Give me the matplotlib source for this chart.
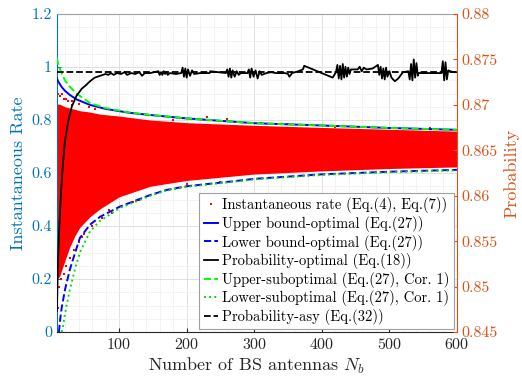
import numpy as np
import matplotlib
matplotlib.use("Agg")
import matplotlib.pyplot as plt

plt.rcParams["font.family"] = "serif"
plt.rcParams["font.serif"] = ["cmr10"]
plt.rcParams["mathtext.fontset"] = "cm"
plt.rcParams["axes.formatter.use_mathtext"] = True

# --- data ---
# upper bounds (left axis)
n_up = [8, 10, 15, 20, 27, 37, 57, 80, 116, 146, 200, 300, 382, 500, 600]
upper_opt = [0.957, 0.945, 0.925, 0.91, 0.895, 0.878, 0.857, 0.842, 0.827, 0.819, 0.806, 0.788, 0.781, 0.770, 0.763]
upper_sub = [1.035, 1.01, 0.976, 0.95, 0.926, 0.90, 0.864, 0.845, 0.828, 0.819, 0.806, 0.788, 0.781, 0.770, 0.763]

# lower bounds (left axis)
n_low = [11, 13, 15, 20, 27, 35, 42, 57, 72, 101, 146, 170, 200, 280, 300, 400, 500, 600]
lower_opt = [0.0, 0.05, 0.09, 0.16, 0.234, 0.30, 0.355, 0.405, 0.435, 0.473, 0.517, 0.536, 0.55, 0.572, 0.578, 0.595, 0.605, 0.612]
n_low_sub = [15, 17, 20, 27, 35, 42, 57, 72, 101, 146, 170, 200, 280, 300, 400, 500, 600]
lower_sub = [0.0, 0.02, 0.07, 0.158, 0.24, 0.30, 0.38, 0.42, 0.468, 0.514, 0.534, 0.548, 0.570, 0.576, 0.593, 0.603, 0.610]

# instantaneous rate cloud: dense envelope + loose points
n_cloud = [8, 12, 20, 27, 35, 42, 57, 72, 100, 146, 200, 300, 400, 500, 600]
cloud_top = [0.86, 0.86, 0.85, 0.845, 0.84, 0.835, 0.83, 0.822, 0.815, 0.80, 0.79, 0.78, 0.772, 0.765, 0.758]
cloud_bot = [0.20, 0.21, 0.27, 0.32, 0.365, 0.395, 0.435, 0.465, 0.51, 0.55, 0.572, 0.596, 0.608, 0.617, 0.623]
n_pts = [8, 9, 9, 11, 12, 14, 15, 18, 18, 22, 22, 28, 30, 34, 40, 40, 48, 55, 60, 75, 90, 120, 160,
         180, 230, 260, 310, 350, 420, 500, 560, 30, 25, 65, 110, 130, 85, 45, 200, 250]
r_pts = [0.15, 0.09, 0.90, 0.17, 0.89, 0.20, 0.90, 0.22, 0.88, 0.25, 0.88, 0.28, 0.87, 0.31, 0.34, 0.86,
         0.37, 0.85, 0.40, 0.43, 0.45, 0.49, 0.53, 0.80, 0.81, 0.805, 0.79, 0.785, 0.775, 0.77, 0.77,
         0.855, 0.87, 0.84, 0.83, 0.50, 0.46, 0.36, 0.56, 0.565]

# probability (right axis)
n_prob = [8, 9, 10, 11, 12, 14, 17, 20, 25, 30, 37, 45, 50, 57, 64, 72, 80,
          84, 88, 92, 97, 103, 108, 112, 118, 124, 130, 134, 138, 146,
          158, 160, 162, 164, 166, 168, 170, 172, 175, 184, 192,
          194, 196, 198, 200, 202, 205, 208, 211, 220, 234, 235, 246, 258,
          260, 262, 264, 266, 268, 271, 274, 277, 280, 290,
          292, 294, 296, 299, 302, 305, 308, 311, 318, 325, 332, 345, 350, 352, 356, 365, 372, 374, 416,
          421, 423, 425, 427, 429, 431, 433, 435, 437, 439, 441, 443,
          453, 456, 459, 462, 466, 475, 483,
          485, 487, 489, 491, 493, 495, 497, 500, 503, 508, 513, 520,
          528, 530, 532, 534, 536, 538, 540, 542, 543, 560, 577,
          579, 581, 583, 585, 587, 590, 595, 600]
p_opt = [0.8473, 0.8508, 0.8536, 0.8557, 0.8573, 0.8602, 0.8636, 0.8661, 0.8683, 0.8698, 0.8710, 0.8718, 0.8721, 0.8726, 0.8730, 0.8732, 0.8734,
         0.8733, 0.8735, 0.8733, 0.8735, 0.8734, 0.8736, 0.8733, 0.8735, 0.8734, 0.8736, 0.8732, 0.8735, 0.8735,
         0.8737, 0.8733, 0.8736, 0.8733, 0.8737, 0.8734, 0.8736, 0.8733, 0.8735, 0.8734, 0.8735,
         0.8741, 0.8731, 0.8740, 0.8730, 0.8739, 0.8732, 0.8738, 0.8734, 0.8735, 0.8735, 0.8737, 0.8736, 0.8735,
         0.8739, 0.8731, 0.8740, 0.8730, 0.8738, 0.8731, 0.8737, 0.8733, 0.8735, 0.8735,
         0.8739, 0.8730, 0.8740, 0.8731, 0.8738, 0.8729, 0.8737, 0.8733, 0.8735, 0.8736, 0.8735, 0.8735, 0.8734, 0.8731, 0.8735, 0.8737, 0.8739, 0.8743, 0.8730,
         0.8736, 0.8744, 0.8729, 0.8743, 0.8728, 0.8745, 0.8730, 0.8742, 0.8731, 0.8741, 0.8734, 0.8739,
         0.8739, 0.8742, 0.8737, 0.8741, 0.8739, 0.8740, 0.8744,
         0.8733, 0.8742, 0.8729, 0.8740, 0.8728, 0.8741, 0.8731, 0.8737, 0.8730, 0.8726, 0.8729, 0.8736,
         0.8737, 0.8728, 0.8745, 0.8727, 0.8750, 0.8730, 0.8746, 0.8732, 0.8735, 0.8735, 0.8735,
         0.8748, 0.8727, 0.8747, 0.8728, 0.8738, 0.8737, 0.8736, 0.8736]
n_asy = [8, 600]
p_asy = [0.8736, 0.8736]

left_c = "#0072BD"
right_c = "#D95319"

fig = plt.figure(figsize=(5.22, 3.79), dpi=100)
ax = fig.add_axes([0.109, 0.124, 0.7665, 0.839])
ax2 = ax.twinx()

ax.fill_between(n_cloud, cloud_bot, cloud_top, color="red", lw=0, zorder=2)
h_pts, = ax.plot(n_pts, r_pts, "s", color="red", ms=1.6, mew=0, zorder=2,
                 label="Instantaneous rate (Eq.(4), Eq.(7))")
h_uo, = ax.plot(n_up, upper_opt, "-", color="blue", lw=1.4, zorder=3,
                label="Upper bound-optimal (Eq.(27))")
h_lo, = ax.plot(n_low, lower_opt, "--", color="blue", lw=1.4, zorder=3,
                label="Lower bound-optimal (Eq.(27))")
h_us, = ax.plot(n_up, upper_sub, "--", color="#00ff00", lw=1.4, zorder=4,
                label="Upper-suboptimal (Eq.(27), Cor. 1)")
h_ls, = ax.plot(n_low_sub, lower_sub, ":", color="#00dd00", lw=1.4, zorder=4,
                label="Lower-suboptimal (Eq.(27), Cor. 1)")

h_po, = ax2.plot(n_prob, p_opt, "-", color="black", lw=1.3,
                 label="Probability-optimal (Eq.(18))")
h_pa, = ax2.plot(n_asy, p_asy, "--", color="black", lw=1.3,
                 label="Probability-asy (Eq.(32))")

ax.set_xlim(8, 600)
ax.set_ylim(0, 1.2)
ax2.set_ylim(0.845, 0.88)
ax.set_xticks([100, 200, 300, 400, 500, 600])
ax.set_xticks(np.arange(20, 600, 20), minor=True)
ax.set_yticks([0, 0.2, 0.4, 0.6, 0.8, 1, 1.2])
ax.set_yticklabels(["0", "0.2", "0.4", "0.6", "0.8", "1", "1.2"])
ax.set_yticks(np.arange(0, 1.2, 0.05), minor=True)
ax2.set_yticks([0.845, 0.85, 0.855, 0.86, 0.865, 0.87, 0.875, 0.88])
ax2.set_yticklabels(["0.845", "0.85", "0.855", "0.86", "0.865", "0.87", "0.875", "0.88"])

ax.grid(True, which="major", color="#dcdcdc", lw=0.6)
ax.grid(True, which="minor", color="#efefef", lw=0.5)
ax.set_axisbelow(True)

ax.tick_params(axis="x", which="both", direction="in", colors="#262626", labelsize=11.5, length=3)
ax.tick_params(axis="x", which="minor", length=0)
ax.tick_params(axis="y", which="both", direction="in", colors=left_c, labelsize=11.5, length=3)
ax.tick_params(axis="y", which="minor", length=0)
ax2.tick_params(axis="y", direction="in", colors=right_c, labelsize=11.5, length=3)

ax.spines["left"].set_color(left_c)
ax.spines["right"].set_visible(False)
ax.spines["top"].set_color("#a0a0a0")
ax.spines["bottom"].set_color("#262626")
ax2.spines["right"].set_color(right_c)
ax2.spines["left"].set_visible(False)
ax2.spines["top"].set_visible(False)
ax2.spines["bottom"].set_visible(False)

ax.set_xlabel("Number of BS antennas $N_b$", fontsize=13, color="#262626", labelpad=3)
ax.set_ylabel("Instantaneous Rate", fontsize=13, color=left_c, labelpad=4)
ax2.set_ylabel("Probability", fontsize=13, color=right_c, labelpad=4)

handles = [h_pts, h_uo, h_lo, h_po, h_us, h_ls, h_pa]
leg = ax2.legend(handles=handles, loc="lower right", bbox_to_anchor=(0.993, 0.008),
                 fontsize=10.5, frameon=True, fancybox=False, framealpha=1,
                 edgecolor="#a0a0a0", handlelength=1.0, handletextpad=0.3,
                 labelspacing=0.18, borderpad=0.3, borderaxespad=0, markerscale=1.0)
leg.get_frame().set_linewidth(0.8)

fig.savefig("out.png", dpi=100)
